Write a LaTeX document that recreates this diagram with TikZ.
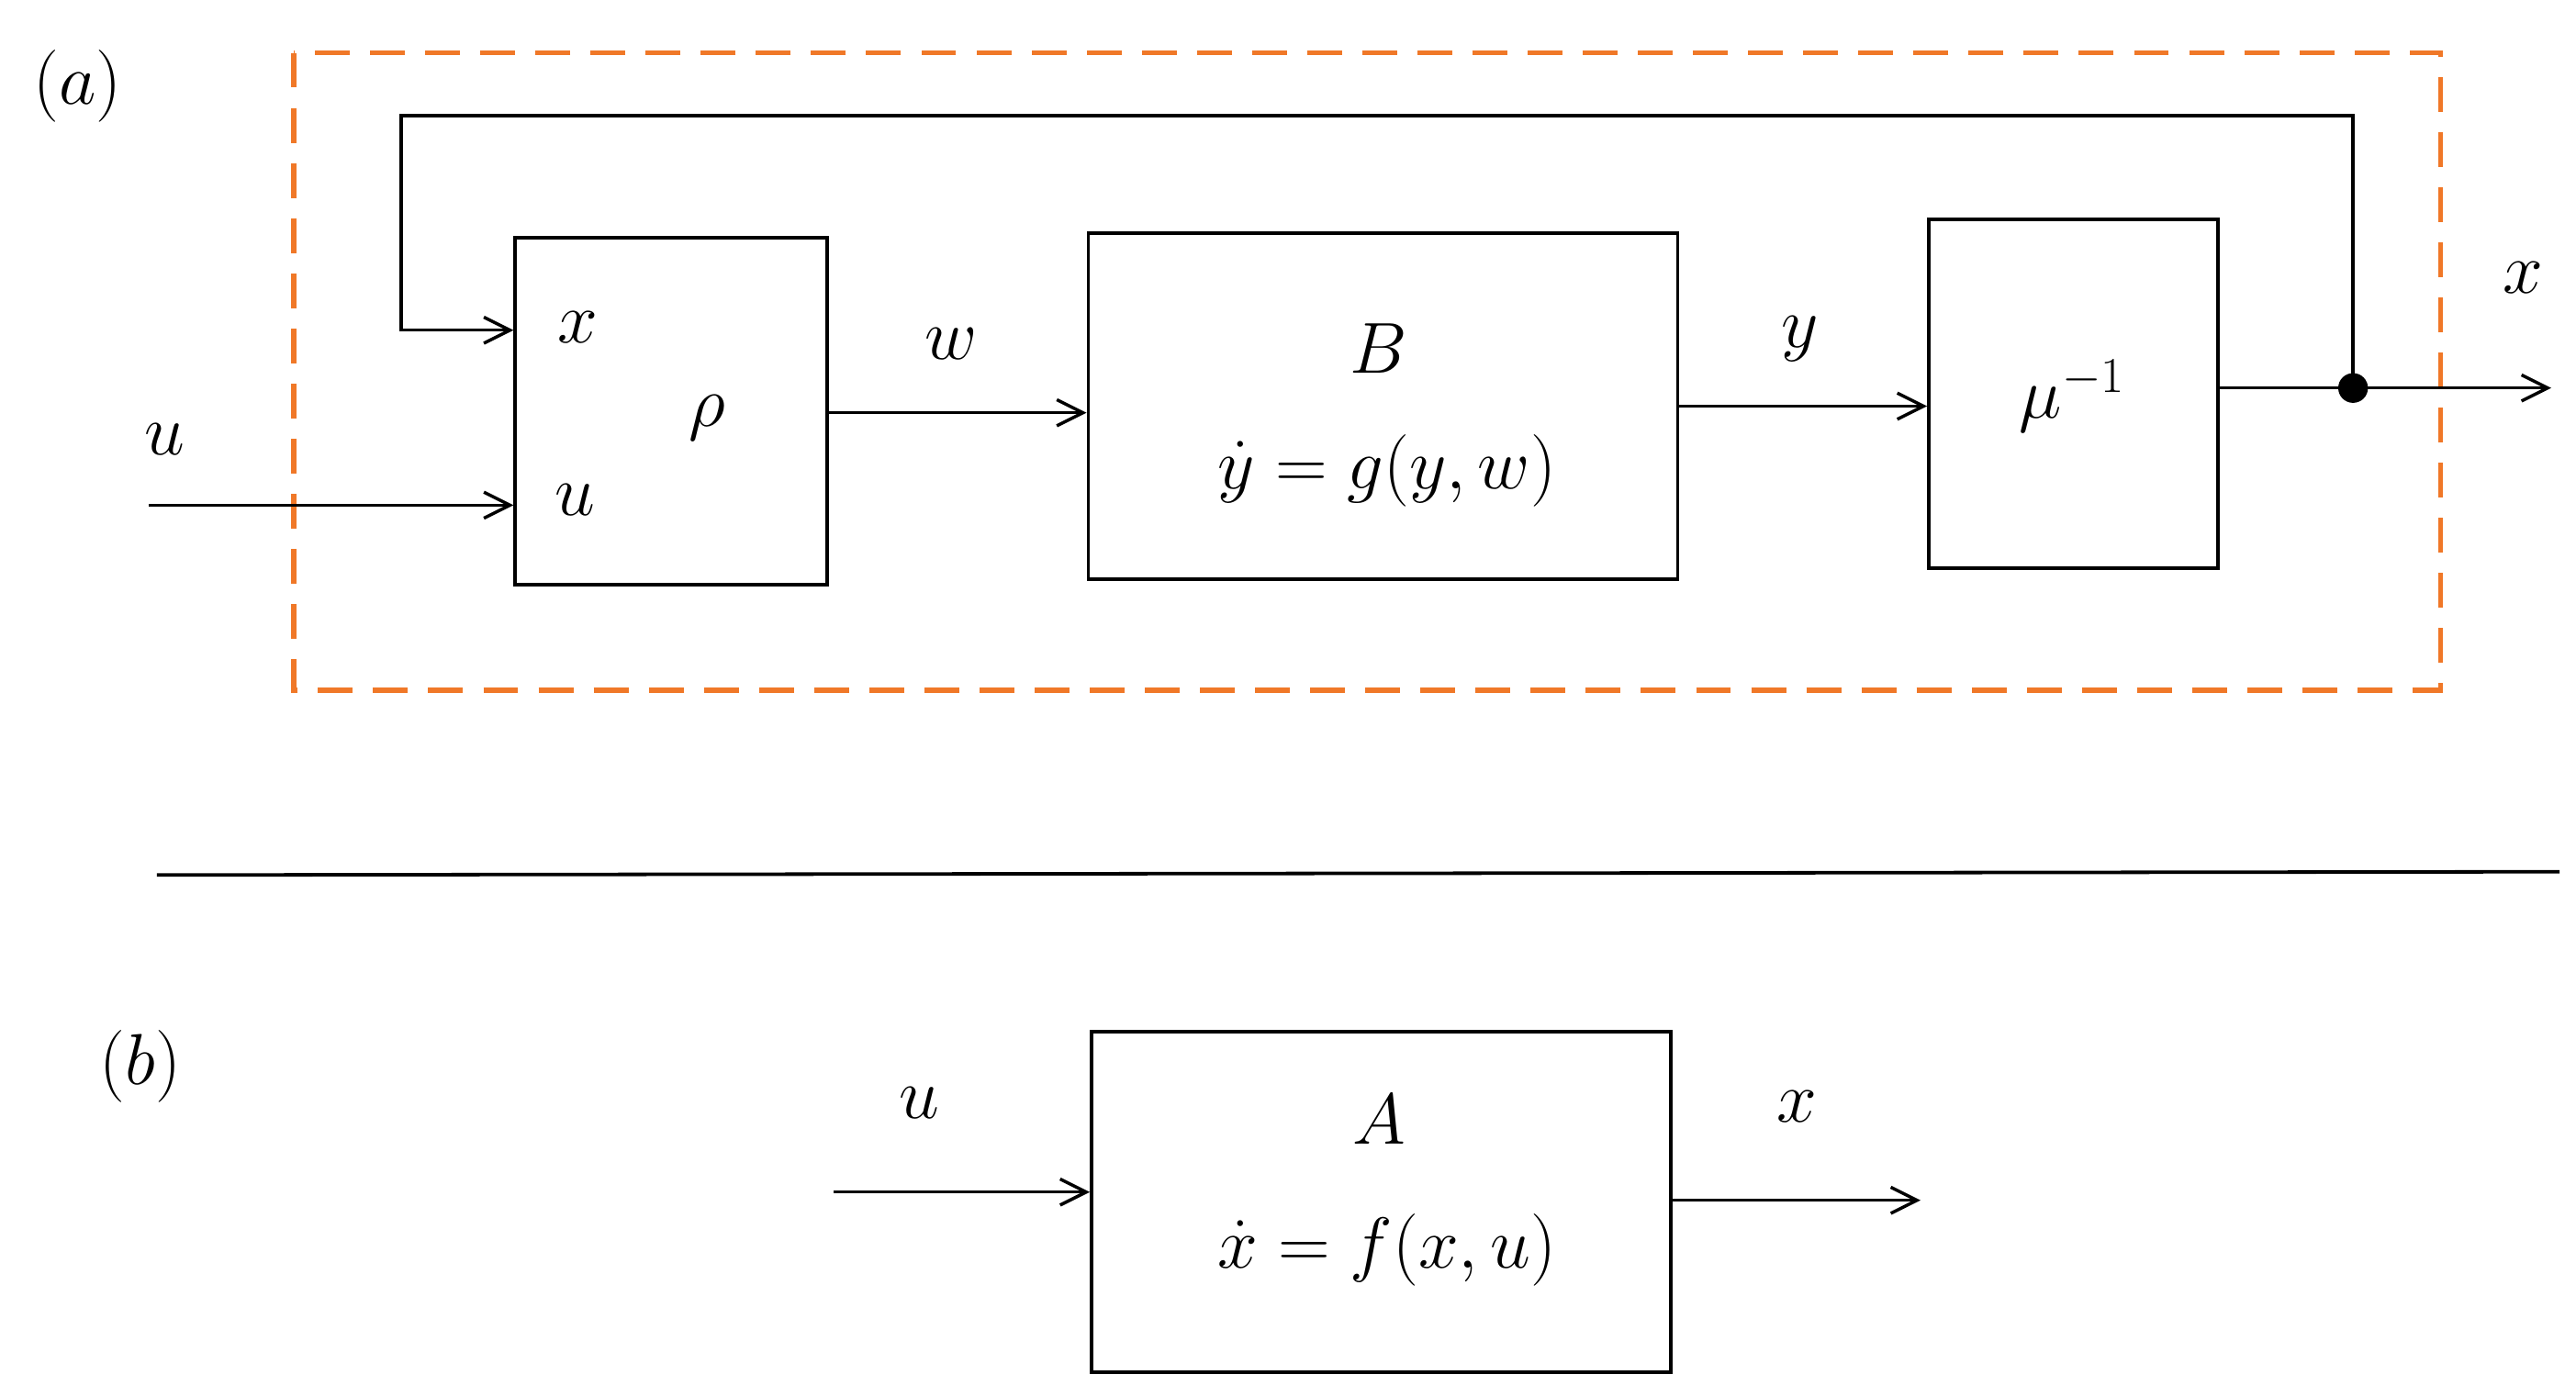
\documentclass[tikz,border=0pt]{standalone}
\usetikzlibrary{arrows.meta}
\definecolor{dorange}{RGB}{240,120,40}
\begin{document}
\begin{tikzpicture}[x=0.02cm,y=-0.02cm,
  box/.style={draw,line width=1.2pt,inner sep=0pt},
  lbl/.style={font=\fontsize{25}{30}\selectfont},
  arr/.style={draw,line width=1.1pt,-{Straight Barb[length=9pt,width=9pt]}},
  ln/.style={draw,line width=1.1pt}]
\useasboundingbox (0,0) rectangle (1560,846);
\draw[dorange,line width=1.8pt,dash pattern=on 12pt off 7pt] (178,32) rectangle (1478,418);
\node[lbl] (la) at (47,52) {$(a)$};
\node[box,minimum width=3.78cm,minimum height=4.2cm] (rho) at (406.5,249) {};
\node[box,minimum width=7.14cm,minimum height=4.2cm] (B) at (837.5,246) {};
\node[box,minimum width=3.5cm,minimum height=4.22cm] (mu) at (1255.5,238.5) {};
\node[lbl] (rx) at (350,198) {$x$};
\node[lbl] (ru) at (348,303) {$u$};
\node[lbl] (rr) at (428,253) {$\rho$};
\node[lbl] (bB) at (835,211) {$B$};
\node[lbl] (bq) at (840,285) {$\dot y = g(y,w)$};
\node[lbl] (mm) at (1255,240) {$\mu^{-1}$};
\coordinate (uin) at (90,306);
\coordinate (urho) at (311,306);
\coordinate (xrho) at (311,200);
\coordinate (dot) at (1425,235);
\coordinate (xout) at (1545,235);
\fill (dot) circle (9);
\draw[arr] (uin) -- (urho);
\node[lbl] (lu) at (100,266) {$u$};
\draw[arr] (rho.east |- 0,250) -- (B.west |- 0,250);
\node[lbl] (lw) at (576,208) {$w$};
\draw[arr] (B.east |- 0,246) -- (mu.west |- 0,246);
\node[lbl] (ly) at (1090,205) {$y$};
\draw[arr] (mu.east |- dot) -- (xout);
\node[lbl] (lx) at (1528,168) {$x$};
\draw[arr] (dot) -- (1425,70) -- (243,70) -- (243,200) -- (xrho);
\coordinate (s1) at (95,530);
\coordinate (s2) at (1550,528);
\draw[line width=1.2pt] (s1) -- (s2);
\node[lbl] (lb) at (85,646) {$(b)$};
\node[box,minimum width=7.02cm,minimum height=4.12cm] (A) at (836.5,728) {};
\node[lbl] (aA) at (835,678) {$A$};
\node[lbl] (aq) at (840,757) {$\dot x = f(x,u)$};
\coordinate (ain) at (505,722);
\coordinate (aout) at (1163,727);
\draw[arr] (ain) -- (A.west |- ain);
\node[lbl] (au) at (557,668) {$u$};
\draw[arr] (A.east |- aout) -- (aout);
\node[lbl] (ax) at (1088,670) {$x$};
\end{tikzpicture}
\end{document}
